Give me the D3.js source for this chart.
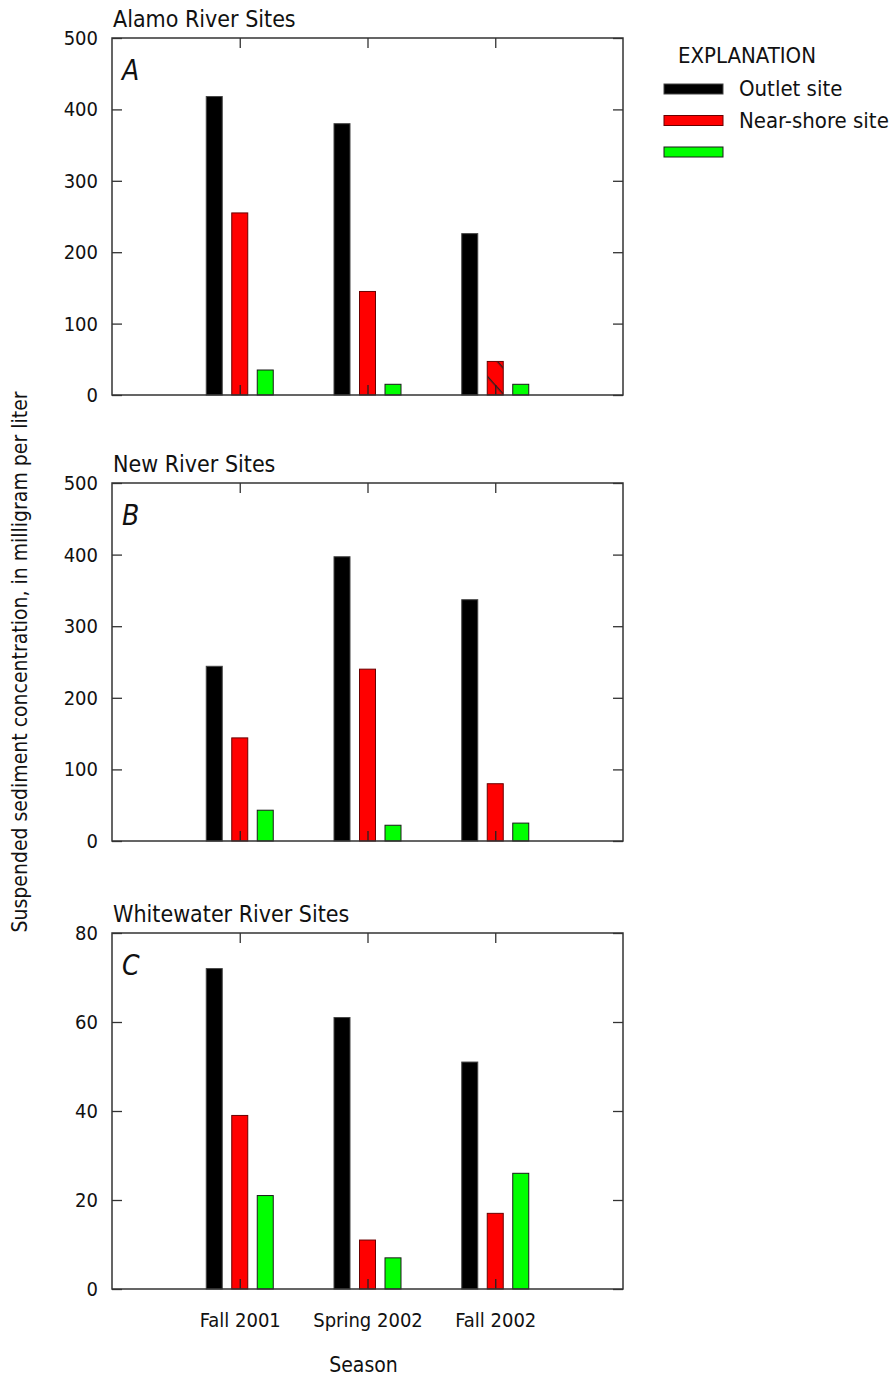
<!DOCTYPE html>
<html>
<head>
<meta charset="utf-8">
<script src="https://cdn.jsdelivr.net/npm/d3@7"></script>
<style>
  body { margin: 0; background: #fff; }
  svg { display: block; }
  svg text { font-family: "Liberation Sans Narrow", "DejaVu Sans Condensed", "DejaVu Sans", sans-serif; font-stretch: condensed; }
</style>
</head>
<body>
<script>
// seasons along the x axis
const seasons = ["Fall 2001", "Spring 2002", "Fall 2002"];
const siteTypes = ["Outlet site", "Near-shore site", ""];
const siteColors = ["#000000", "#ff0000", "#00ff00"];
const siteStrokes = ["#444444", "#6a0000", "#1a1a1a"];

// suspended sediment, mg/L, [outlet, near-shore, third] per season
const alamo = [[418, 255, 35], [380, 145, 15], [226, 47, 15]];
const newRiver = [[244, 144, 43], [397, 240, 22], [337, 80, 25]];
const whitewater = [[72, 39, 21], [61, 11, 7], [51, 17, 26]];

const panels = [
  {title: "Alamo River Sites", letter: "A", data: alamo, max: 500, step: 100, top: 38, bottom: 395, hatch: [2, 1]},
  {title: "New River Sites", letter: "B", data: newRiver, max: 500, step: 100, top: 483, bottom: 841},
  {title: "Whitewater River Sites", letter: "C", data: whitewater, max: 80, step: 20, top: 933, bottom: 1289, labels: true}
];

const width = 890, height = 1379;
const left = 112, right = 623;
const barW = 16, barGap = 25.5;

const svg = d3.select("body").append("svg")
    .attr("width", width)
    .attr("height", height)
    .attr("viewBox", [0, 0, width, height]);

// hatch for the partly-estimated bar ("\" lines)
svg.append("defs").append("pattern")
    .attr("id", "hatch")
    .attr("patternUnits", "userSpaceOnUse")
    .attr("width", 20).attr("height", 17.4)
    .attr("patternTransform", "rotate(48)")
    .call(p => p.append("rect").attr("width", 20).attr("height", 17.4).attr("fill", "#ff0000"))
    .call(p => p.append("line").attr("x1", 0).attr("y1", 0.7).attr("x2", 20).attr("y2", 0.7)
        .attr("stroke", "#222").attr("stroke-width", 1.3));

const x = d3.scaleLinear([0, 4], [left, right]);

const styleAxis = a => {
  a.attr("font-family", null).attr("font-size", null);
  a.select(".domain").remove();
  a.selectAll("text").attr("font-size", 20).attr("fill", "#111");
  a.selectAll("line").attr("stroke", "#333").attr("stroke-width", 1.3);
};

panels.forEach(p => {
  const y = d3.scaleLinear([0, p.max], [p.bottom, p.top]);
  const g = svg.append("g");

  g.append("text")
      .attr("x", left + 1).attr("y", p.top - 11)
      .attr("font-size", 23).attr("fill", "#111")
      .text(p.title);

  g.append("text")
      .attr("x", left + 10).attr("y", p.top + 42)
      .attr("font-size", 28).attr("font-style", "italic").attr("fill", "#111")
      .text(p.letter);

  // bars
  p.data.forEach((vals, i) => {
    vals.forEach((v, j) => {
      const cx = x(i + 1) + (j - 1) * barGap;
      const hatched = p.hatch && p.hatch[0] === i && p.hatch[1] === j;
      // origin at the bar's lower right corner so the hatch lines sit like the original
      g.append("g")
          .attr("transform", `translate(${cx + barW / 2},${y(0) - 2})`)
        .append("rect")
          .attr("x", -barW)
          .attr("y", y(v) - y(0) + 2)
          .attr("width", barW)
          .attr("height", y(0) - y(v))
          .attr("fill", hatched ? "url(#hatch)" : siteColors[j])
          .attr("stroke", siteStrokes[j])
          .attr("stroke-width", 1);
    });
  });

  const ticks = d3.range(0, p.max + 1, p.step);

  g.append("g")
      .attr("transform", `translate(${left},0)`)
      .call(d3.axisLeft(y).tickValues(ticks).tickSize(-10).tickPadding(14))
      .call(styleAxis);

  g.append("g")
      .attr("transform", `translate(${right},0)`)
      .call(d3.axisRight(y).tickValues(ticks).tickSize(-10).tickFormat(""))
      .call(styleAxis);

  g.append("g")
      .attr("transform", `translate(0,${p.top})`)
      .call(d3.axisTop(x).tickValues([1, 2, 3]).tickSize(-10).tickFormat(""))
      .call(styleAxis);

  g.append("g")
      .attr("transform", `translate(0,${p.bottom})`)
      .call(d3.axisBottom(x).tickValues([1, 2, 3]).tickSize(-10).tickPadding(24)
          .tickFormat(d => p.labels ? seasons[d - 1] : ""))
      .call(styleAxis)
      .call(a => a.selectAll("line").attr("stroke", "#222"));

  // frame
  g.append("rect")
      .attr("x", left).attr("y", p.top)
      .attr("width", right - left).attr("height", p.bottom - p.top)
      .attr("fill", "none").attr("stroke", "#333").attr("stroke-width", 1.5);
});

// axis titles
svg.append("text")
    .attr("transform", "translate(27,662) rotate(-90)")
    .attr("text-anchor", "middle")
    .attr("font-size", 21).attr("fill", "#111")
    .text("Suspended sediment concentration, in milligram per liter");

svg.append("text")
    .attr("x", (left + right) / 2 - 4).attr("y", 1372)
    .attr("text-anchor", "middle")
    .attr("font-size", 21).attr("fill", "#111")
    .text("Season");

// legend
const legend = svg.append("g").attr("transform", "translate(664,0)");
legend.append("text")
    .attr("x", 14).attr("y", 63)
    .attr("font-size", 22).attr("fill", "#111")
    .text("EXPLANATION");
siteTypes.forEach((s, j) => {
  const ly = 84 + j * 31.5;
  legend.append("rect")
      .attr("x", 0).attr("y", ly)
      .attr("width", 59).attr("height", 10)
      .attr("fill", siteColors[j]).attr("stroke", siteStrokes[j]).attr("stroke-width", 1);
  legend.append("text")
      .attr("x", 75).attr("y", ly + 12)
      .attr("font-size", 22).attr("fill", "#111")
      .text(s);
});
</script>
</body>
</html>
